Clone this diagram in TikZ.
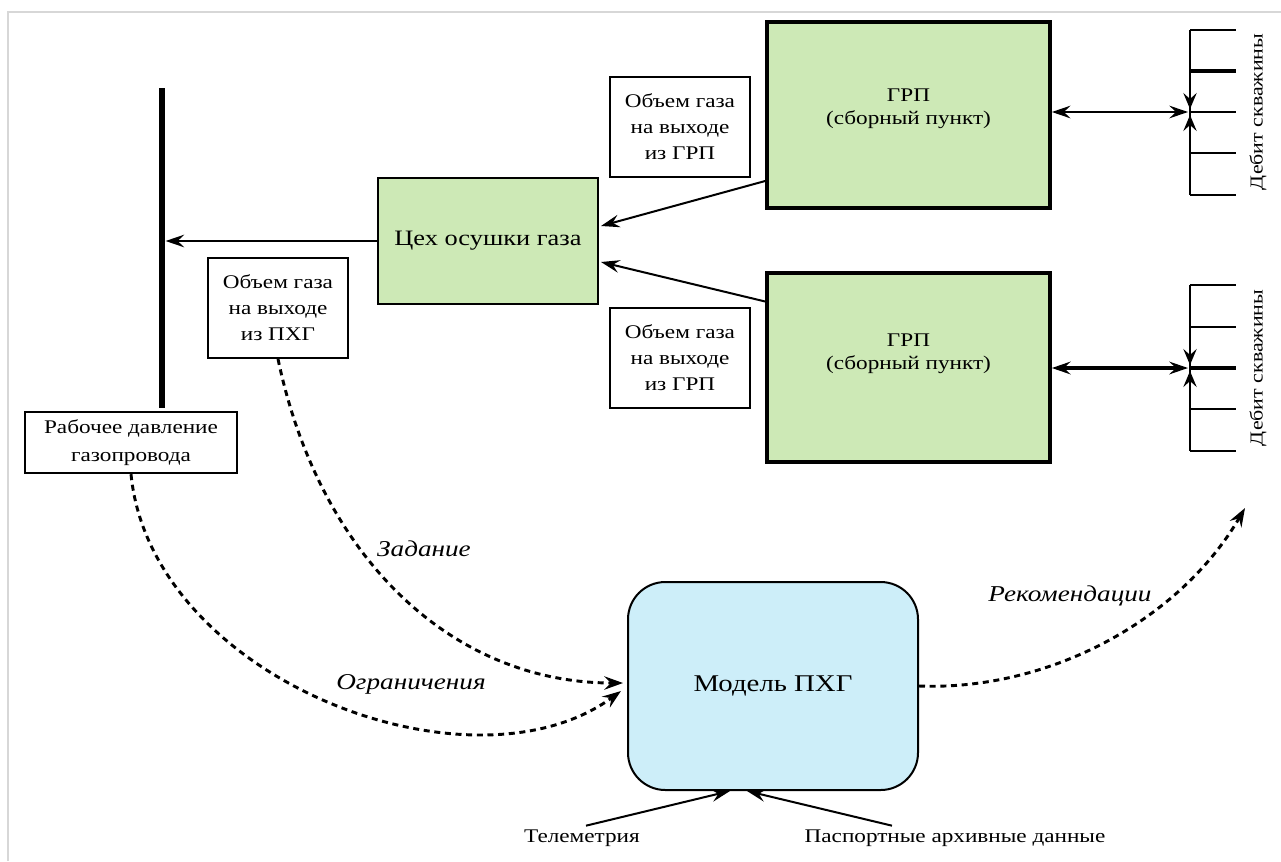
\documentclass[tikz,border=0pt]{standalone}
\usepackage{fontspec}
\setmainfont[FakeStretch=1.2]{Liberation Serif}
\usetikzlibrary{arrows.meta,calc}
\definecolor{grpgreen}{RGB}{205,233,182}
\definecolor{modelblue}{RGB}{205,238,249}
\definecolor{framegray}{RGB}{215,215,215}
\begin{document}
\begin{tikzpicture}[x=0.75pt,y=-0.75pt,
  font=\fontsize{14.5}{19.5}\selectfont,
  every node/.style={inner sep=2pt},
  grpbox/.style={draw, line width=3pt, fill=grpgreen, minimum width=212pt, minimum height=140pt},
  grptext/.style={align=center, font=\fontsize{14.5}{17.5}\selectfont},
  tsehbox/.style={draw, line width=1.5pt, fill=grpgreen, minimum width=165pt, minimum height=94.5pt, font=\fontsize{16.5}{20}\selectfont},
  lblbox/.style={draw, line width=1.5pt, fill=white, minimum width=105pt, minimum height=75pt, align=center},
  modelbox/.style={draw, line width=1.5pt, fill=modelblue, rounded corners=28pt, minimum width=217.5pt, minimum height=156pt, font=\fontsize{18}{22}\selectfont},
  tipstyle/.style={},
  arr/.style={line width=1.5pt, -{Stealth[length=14pt,width=9.5pt,inset=5pt]}},
  darr/.style={line width=1.5pt, {Stealth[length=14pt,width=9.5pt,inset=5pt]}-{Stealth[length=14pt,width=9.5pt,inset=5pt]}},
  dasharr/.style={line width=2.2pt, dash pattern=on 4.5pt off 3.5pt, -{Stealth[length=14pt,width=10pt,inset=5pt]}},
  combline/.style={line width=1.5pt},
  combthick/.style={line width=3pt},
  tip/.style={line width=1.5pt, -{Stealth[length=12pt,width=10pt,inset=4.5pt]}},
  deblabel/.style={rotate=90, font=\fontsize{13.7}{16}\selectfont},
  itlabel/.style={font=\fontsize{17}{20}\selectfont\itshape}
]
\useasboundingbox (0,0) rectangle (1281,861);
% frame
\draw[framegray, line width=1.5pt] (7.5,861) -- (7.5,12) -- (1281,12);

% nodes
\node[grpbox] (grp1) at (908.5,115) {};
\node[grptext] (grp1t) at (908.5,108.5) {ГРП\\(сборный пункт)};
\node[grpbox, minimum height=142pt] (grp2) at (908.5,367.5) {};
\node[grptext] (grp2t) at (908.5,354) {ГРП\\(сборный пункт)};
\node[tsehbox] (tseh) at (488,241) {Цех осушки газа};
\node[lblbox] (v1) at (680,127) {Объем газа\\на выходе\\из ГРП};
\node[lblbox] (v2) at (680,358) {Объем газа\\на выходе\\из ГРП};
\node[lblbox] (vp) at (278,308) {Объем газа\\на выходе\\из ПХГ};
\node[fill=black, minimum width=5pt, minimum height=240pt, inner sep=0pt] (bar) at (162,248) {};
\node[draw, line width=1.5pt, fill=white, minimum width=159pt, minimum height=46pt, align=center, font=\fontsize{14.5}{21}\selectfont] (rab) at (131,442.5) {Рабочее давление\\газопровода};
\node[modelbox] (model) at (773,686) {Модель ПХГ};
\node (tel) at (582,838) {Телеметрия};
\node (pas) at (955,838) {Паспортные архивные данные};

% solid connectors
\draw[arr] (tseh.west) -- (tseh.west -| bar.east);
\draw[arr] ($(grp1.west)+(0,66)$) -- ($(tseh.east)+(2,-15)$);
\draw[arr] ($(grp2.west)+(0,-66)$) -- ($(tseh.east)+(2,21)$);
\draw[arr] ($(tel.north)+(4,-1)$) -- ($(model.south)+(-43,0)$);
\draw[arr] ($(pas.north)+(-63,-1)$) -- ($(model.south)+(-26,0)$);

% well combs
\coordinate (w1) at (1188,112);
\coordinate (w2) at (1188,368);
\draw[combline] (1190,30) -- (1190,195);
\foreach \yy in {30,112,153,195} \draw[combline] (1190,\yy) -- (1236,\yy);
\draw[combthick] (1190,71) -- (1236,71);
\draw[combline] (1190,285) -- (1190,451);
\foreach \yy in {285,327,409,451} \draw[combline] (1190,\yy) -- (1236,\yy);
\draw[combthick] (1190,368) -- (1236,368);
\draw[darr] (grp1.east |- w1) -- (w1);
\draw[darr, line width=2.5pt] (grp2.east |- w2) -- (w2);
\draw[tip] (1190,88) -- (1190,109);
\draw[tip] (1190,137) -- (1190,115);
\draw[tip] (1190,343) -- (1190,365);
\draw[tip] (1190,393) -- (1190,371);
\node[deblabel] (deb1) at (1258,112) {Дебит скважины};
\node[deblabel] (deb2) at (1258,368) {Дебит скважины};

% dashed connectors
\coordinate (recEnd) at (1245,508);
\draw[dasharr] (vp.south) .. controls +(42,200) and +(-170,0) .. ($(model.west)+(-4,-3)$);
\draw[dasharr] (rab.south) .. controls +(20,205) and +(-150,110) .. ($(model.west)+(-6,5)$);
\draw[dasharr] (model.east) .. controls +(130,5) and +(-65,112) .. (recEnd);

% labels
\node[itlabel] (zad) at (424,549) {Задание};
\node[itlabel] (ogr) at (411,684) {Ограничения};
\node[itlabel] (rec) at (1070,596) {Рекомендации};
\end{tikzpicture}
\end{document}
